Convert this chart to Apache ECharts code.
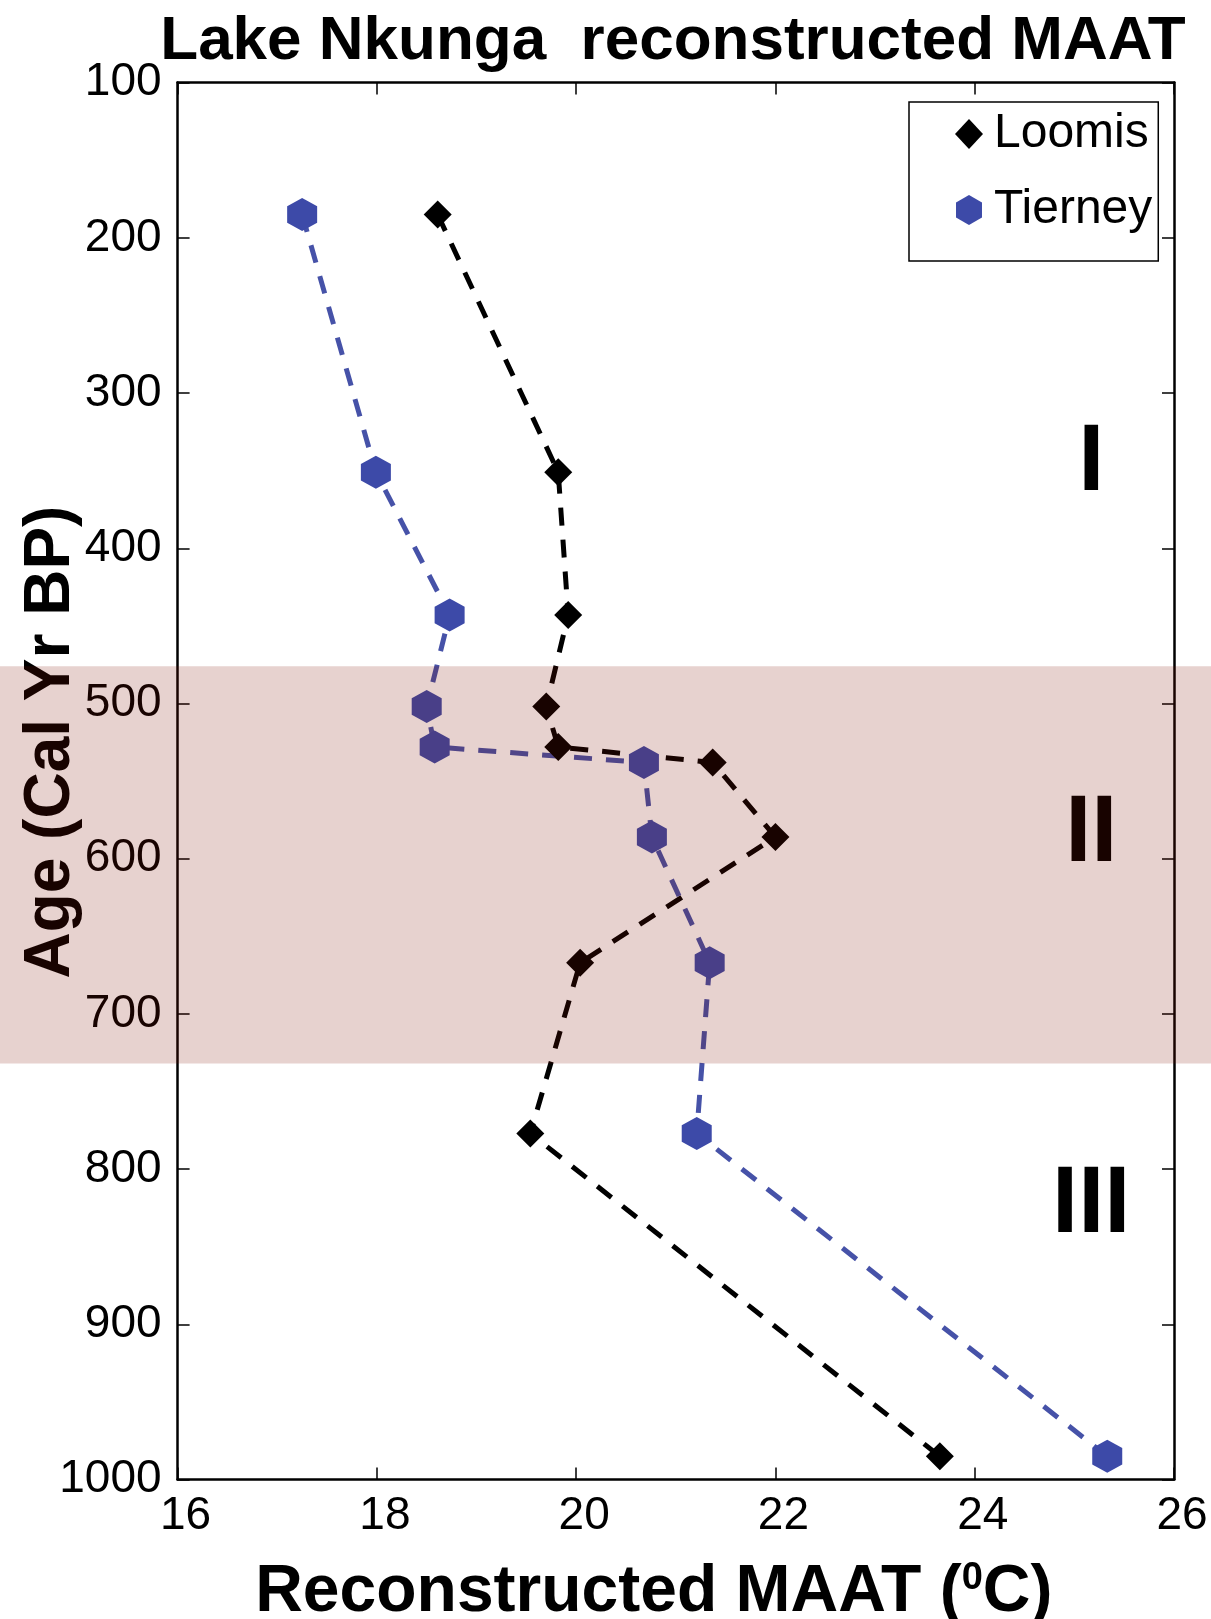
<!DOCTYPE html>
<html>
<head>
<meta charset="utf-8">
<script src="https://cdn.jsdelivr.net/npm/echarts@6/dist/echarts.min.js"></script>
<style>
  html, body { margin: 0; padding: 0; background: #fff; }
  #chart { width: 1211px; height: 1619px; }
</style>
</head>
<body>
<div id="chart"></div>
<script>
// ages (cal yr BP) shared by both reconstructions
const ages = [185, 351, 443, 502, 528, 538, 586, 667, 777, 985]
const loomis = [18.61, 19.82, 19.92, 19.70, 19.82, 21.37, 22.0, 20.04, 19.54, 23.65]
const tierney = [17.25, 17.99, 18.73, 18.50, 18.58, 20.68, 20.76, 21.34, 21.21, 25.33]
// zone labels and the shaded zone II band
const zoneNames = ['I', 'II', 'III']
const zoneAges = [346, 585, 824]
const zoneTemp = 25.17
const bandAges = [476, 732]

const FONT = 'Liberation Sans, Arial, sans-serif'
const BLUE = '#3d4aa8'
const hexagon = 'path://M0,-1 L0.866,-0.5 L0.866,0.5 L0,1 L-0.866,0.5 L-0.866,-0.5 Z'

const toPairs = (temps) => ages.map((a, i) => [temps[i], a])

const chart = echarts.init(document.getElementById('chart'))

const axisCommon = {
  axisLine: { show: true, lineStyle: { color: '#000', width: 2.5 } },
  axisTick: { show: true, inside: true, length: 12, lineStyle: { color: '#000', width: 1.5 } },
  splitLine: { show: false },
}

const option = {
  animation: false,
  backgroundColor: '#fff',
  title: {
    text: 'Lake Nkunga  reconstructed MAAT',
    left: 668,
    top: 6,
    textAlign: 'center',
    textStyle: { fontFamily: FONT, fontSize: 62, fontWeight: 'bold', color: '#000' },
  },
  grid: { left: 177.6, right: 37, top: 82.6, bottom: 139.4, outerBoundsMode: 'none', containLabel: false },
  legend: {
    orient: 'vertical',
    left: 909,
    top: 102,
    padding: [4, 6, 23, 46],
    itemWidth: 28,
    itemHeight: 30,
    itemGap: 20,
    borderColor: '#000',
    borderWidth: 1.5,
    borderRadius: 0,
    backgroundColor: '#fff',
    textStyle: { fontFamily: FONT, fontSize: 48, lineHeight: 56, color: '#000', padding: [0, 0, 0, 6] },
    data: [
      { name: 'Loomis', icon: 'diamond' },
      { name: 'Tierney', icon: hexagon },
    ],
  },
  xAxis: [
    {
      type: 'value',
      min: 16,
      max: 26,
      interval: 2,
      position: 'bottom',
      ...axisCommon,
      axisLabel: { fontFamily: FONT, fontSize: 46, color: '#000', margin: 14, padding: [0, 0, 0, 16] },
      name: 'Reconstructed MAAT ({sup|0}C)',
      nameLocation: 'middle',
      nameGap: 80,
      nameMoveOverlap: false,
      nameTextStyle: {
        fontFamily: FONT,
        fontSize: 66,
        fontWeight: 'bold',
        color: '#000',
        padding: [0, 44, 0, 0],
        rich: {
          sup: { fontFamily: FONT, fontSize: 38, fontWeight: 'bold', color: '#000', verticalAlign: 'top', lineHeight: 66 },
        },
      },
    },
    {
      type: 'value',
      min: 16,
      max: 26,
      interval: 2,
      position: 'top',
      ...axisCommon,
      axisLabel: { show: false },
    },
  ],
  yAxis: [
    {
      type: 'value',
      inverse: true,
      min: 100,
      max: 1000,
      interval: 100,
      position: 'left',
      ...axisCommon,
      axisLabel: { fontFamily: FONT, fontSize: 46, color: '#000', margin: 16, formatter: (v) => String(v) },
      name: 'Age (Cal Yr BP)',
      nameLocation: 'middle',
      nameGap: 94,
      nameMoveOverlap: false,
      nameTextStyle: { fontFamily: FONT, fontSize: 64, fontWeight: 'bold', color: '#000', padding: [0, 0, 0, 78] },
    },
    {
      type: 'value',
      inverse: true,
      min: 100,
      max: 1000,
      interval: 100,
      position: 'right',
      ...axisCommon,
      axisLabel: { show: false },
    },
  ],
  series: [
    {
      name: 'Loomis',
      type: 'line',
      xAxisIndex: 0,
      yAxisIndex: 0,
      data: toPairs(loomis),
      symbol: 'diamond',
      symbolSize: 28,
      itemStyle: { color: '#000' },
      lineStyle: { color: '#000', width: 5, type: [18, 14] },
    },
    {
      name: 'Tierney',
      type: 'line',
      xAxisIndex: 0,
      yAxisIndex: 0,
      data: toPairs(tierney),
      symbol: hexagon,
      symbolSize: [30, 33],
      itemStyle: { color: BLUE },
      lineStyle: { color: '#4652a8', width: 5, type: [18, 14] },
    },
  ],
}

chart.setOption(option)

// band and zone labels placed through the axes' own scales
const bandTop = chart.convertToPixel({ yAxisIndex: 0 }, bandAges[0])
const bandBottom = chart.convertToPixel({ yAxisIndex: 0 }, bandAges[1])
const graphics = zoneNames.map((name, i) => {
  const p = chart.convertToPixel({ gridIndex: 0 }, [zoneTemp, zoneAges[i]])
  return {
    type: 'text',
    x: p[0],
    y: p[1],
    z: 50,
    style: {
      text: name,
      fontFamily: FONT,
      fontSize: 94,
      fontWeight: 'bold',
      fill: '#000',
      align: 'center',
      verticalAlign: 'middle',
    },
  }
})
graphics.push({
  type: 'rect',
  z: 100,
  shape: { x: 0, y: bandTop, width: 1211, height: bandBottom - bandTop },
  style: { fill: 'rgba(129,18,0,0.19)' },
})
chart.setOption({ graphic: graphics })
</script>
</body>
</html>
